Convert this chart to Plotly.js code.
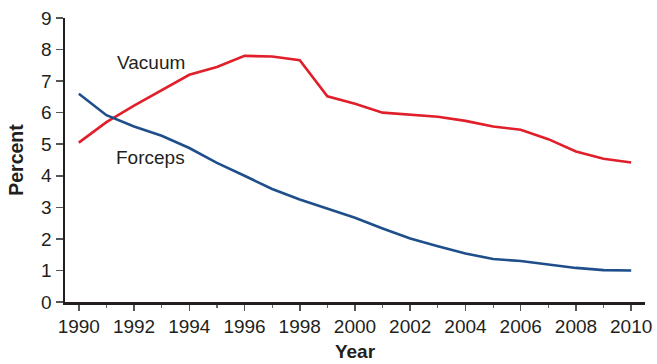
<!DOCTYPE html>
<html>
<head>
<meta charset="utf-8">
<script src="https://cdn.plot.ly/plotly-3.0.1.min.js"></script>
<style>html,body{margin:0;padding:0;background:#fff;}#chart{width:657px;height:364px;}</style>
</head>
<body>
<div id="chart"></div>
<script>
const years = [1990,1991,1992,1993,1994,1995,1996,1997,1998,1999,2000,2001,2002,2003,2004,2005,2006,2007,2008,2009,2010];
const vacuum = [5.05,5.7,6.22,6.72,7.2,7.45,7.8,7.78,7.66,6.52,6.28,6.0,5.93,5.87,5.74,5.56,5.46,5.16,4.77,4.54,4.42];
const forceps = [6.6,5.92,5.56,5.27,4.88,4.41,4.0,3.58,3.25,2.97,2.67,2.33,2.01,1.77,1.54,1.36,1.3,1.19,1.08,1.01,1.0];
const seriesNames = ["Vacuum","Forceps"];
const labelPos = [[1992.6,7.59],[1992.6,4.58]];

const font = "'Liberation Sans', Arial, Helvetica, sans-serif";
const ink = '#231f20';
const traces = [
  {x: years, y: vacuum, name: seriesNames[0], mode: 'lines', line: {color: '#e01f2b', width: 2.6}},
  {x: years, y: forceps, name: seriesNames[1], mode: 'lines', line: {color: '#1f4f8a', width: 2.6}}
];
const layout = {
  width: 657, height: 364,
  margin: {l: 65, r: 12, t: 18, b: 62},
  paper_bgcolor: '#fff', plot_bgcolor: '#fff',
  showlegend: false,
  font: {family: font, size: 19, color: ink},
  xaxis: {
    range: [1989.5, 2010.5], tick0: 1990, dtick: 2, showgrid: false, zeroline: false,
    showline: true, linecolor: ink, linewidth: 2.5,
    ticks: 'outside', ticklen: 6, tickwidth: 1.5, tickcolor: '#555',
    minor: {dtick: 1, ticks: 'outside', ticklen: 3, tickwidth: 1.2, tickcolor: '#666', showgrid: false},
    tickfont: {family: font, size: 19, color: ink},
    title: {text: '<b>Year</b>', font: {family: font, size: 19, color: ink}, standoff: 9}
  },
  yaxis: {
    range: [0, 9], dtick: 1, showgrid: false, zeroline: false,
    showline: true, linecolor: ink, linewidth: 2.5,
    ticks: 'outside', ticklen: 7, tickwidth: 1.5, tickcolor: '#555',
    tickfont: {family: font, size: 19, color: ink},
    title: {text: '<b>Percent</b>', font: {family: font, size: 19.5, color: ink}, standoff: 13}
  },
  annotations: seriesNames.map((n, i) => ({
    x: labelPos[i][0], y: labelPos[i][1], xref: 'x', yref: 'y', text: n, showarrow: false,
    font: {family: font, size: 19, color: ink}
  }))
};
Plotly.newPlot('chart', traces, layout, {displayModeBar: false, staticPlot: true});
</script>
</body>
</html>
